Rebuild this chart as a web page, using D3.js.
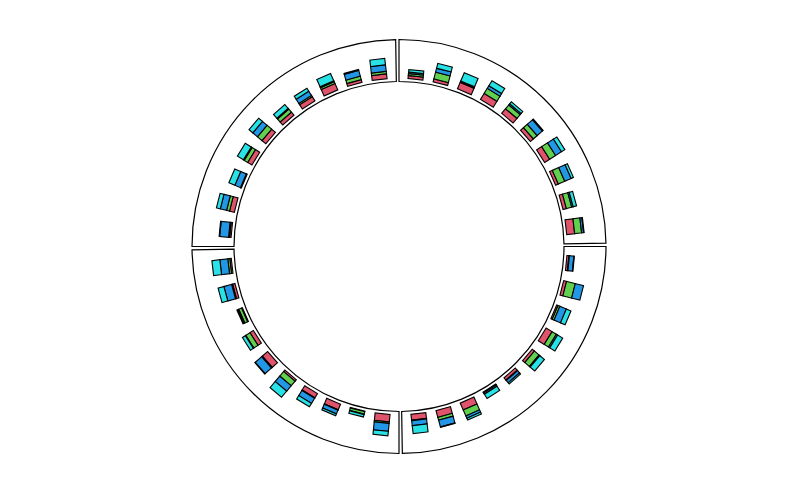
<!DOCTYPE html>
<html>
<head>
<meta charset="utf-8">
<script src="https://cdn.jsdelivr.net/npm/d3@7"></script>
<style>
	html, body { margin: 0; padding: 0; background: #fff; }
	svg { display: block; }
</style>
</head>
<body>
<div id="chart"></div>
<script>
// four sectors, ten bars each, clockwise from 12 o'clock
var sectors = ['a', 'b', 'c', 'd'];
var barsPerSector = 10;

// stacked values, inner to outer, one entry per bar (40 bars)
var redValues = [3, 3, 7, 7, 6, 4, 6, 3, 3.5, 8,
	2, 3, 1.5, 7, 3, 3, 0.5, 7.5, 7, 6,
	7.5, 0.5, 6, 5, 2, 7, 4, 1, 2.5, 1.5,
	1.5, 5, 0.5, 5, 5, 4, 5, 7, 3, 5];
var greenValues = [2, 7, 1, 6, 5, 5, 7, 7, 5.5, 7,
	0.5, 9, 2, 5, 6, 0.5, 0.5, 6.5, 3, 0.5,
	1.5, 2.5, 0.5, 0.5, 6, 1, 5, 3, 1, 2,
	1, 3, 0.5, 4, 6, 4, 1.5, 2, 3.5, 2.5];
var blueValues = [1.5, 4, 0.5, 3, 1.5, 7, 7, 7, 1.5, 2,
	4.5, 8.5, 7, 1.5, 1, 3, 1.5, 2.5, 7, 5,
	8, 0.5, 4, 6, 7, 8.5, 0.5, 1, 8, 8,
	9, 6.5, 6, 1, 6, 1, 5, 1, 6, 6.5];
var cyanValues = [2.5, 5, 9, 6, 2.5, 1, 4, 2.5, 3.5, 0.5,
	0.5, 0, 5, 6, 6, 1.5, 5, 2, 0.5, 8,
	4.5, 2.5, 2, 4, 8, 0.5, 3.5, 1, 6, 8,
	0.5, 4, 6.5, 7, 5, 5, 3.5, 8, 1, 6.5];

var seriesKeys = ['red', 'green', 'blue', 'cyan'];
var seriesColors = ['#DF536B', '#61D04F', '#2297E6', '#28E2E5'];

(function() {
	"use strict";

	var width = 799, height = 494;
	var cx = 399, cy = 246.5;
	var innerRadius = 165, outerRadius = 207, baseRadius = 168;
	var gapPx = 3;
	var barWidth = 15;

	var rows = redValues.map(function (v, i) {
		return {
			id: i,
			sector: sectors[Math.floor(i / barsPerSector)],
			index: i % barsPerSector,
			red: v,
			green: greenValues[i],
			blue: blueValues[i],
			cyan: cyanValues[i]
		};
	});

	var stacked = d3.stack().keys(seriesKeys)(rows);

	var color = d3.scaleOrdinal().domain(seriesKeys).range(seriesColors);
	var radial = d3.scaleLinear().domain([0, 25]).range([0, 25]);

	var sectorSpan = 90;
	var sectorStart = d3.scaleOrdinal()
		.domain(sectors)
		.range(sectors.map(function (s, i) { return i * sectorSpan; }));

	var band = d3.scaleBand()
		.domain(d3.range(barsPerSector))
		.range([0, sectorSpan - 1])
		.paddingOuter(0.15);

	function barAngle(row) {
		return sectorStart(row.sector) + band(row.index) + band.bandwidth() / 2;
	}

	var svg = d3.select('#chart')
		.append('svg')
		.attr('width', width)
		.attr('height', height);

	var root = svg.append('g')
		.attr('transform', 'translate(' + cx + ',' + cy + ')');

	var gapAngle = gapPx / ((innerRadius + outerRadius) / 2);
	var arc = d3.arc()
		.innerRadius(innerRadius)
		.outerRadius(outerRadius);

	root.selectAll('path.sector')
		.data(sectors)
		.enter()
		.append('path')
		.classed('sector', true)
		.attr('d', function (s) {
			var a0 = sectorStart(s) * Math.PI / 180;
			return arc({ startAngle: a0, endAngle: a0 + sectorSpan * Math.PI / 180 - gapAngle });
		})
		.attr('fill', '#fff')
		.attr('stroke', '#000')
		.attr('stroke-width', 1.2);

	var layers = root.selectAll('g.layer')
		.data(stacked)
		.enter()
		.append('g')
		.classed('layer', true)
		.attr('fill', function (d) { return color(d.key); });

	layers.selectAll('rect')
		.data(function (d) { return d; })
		.enter()
		.append('rect')
		.attr('transform', function (d) { return 'rotate(' + barAngle(d.data) + ')'; })
		.attr('x', -barWidth / 2)
		.attr('y', function (d) { return -(baseRadius + radial(d[1])); })
		.attr('width', barWidth)
		.attr('height', function (d) { return radial(d[1]) - radial(d[0]); })
		.attr('stroke', '#000')
		.attr('stroke-width', 1.1);
}());
</script>
</body>
</html>
